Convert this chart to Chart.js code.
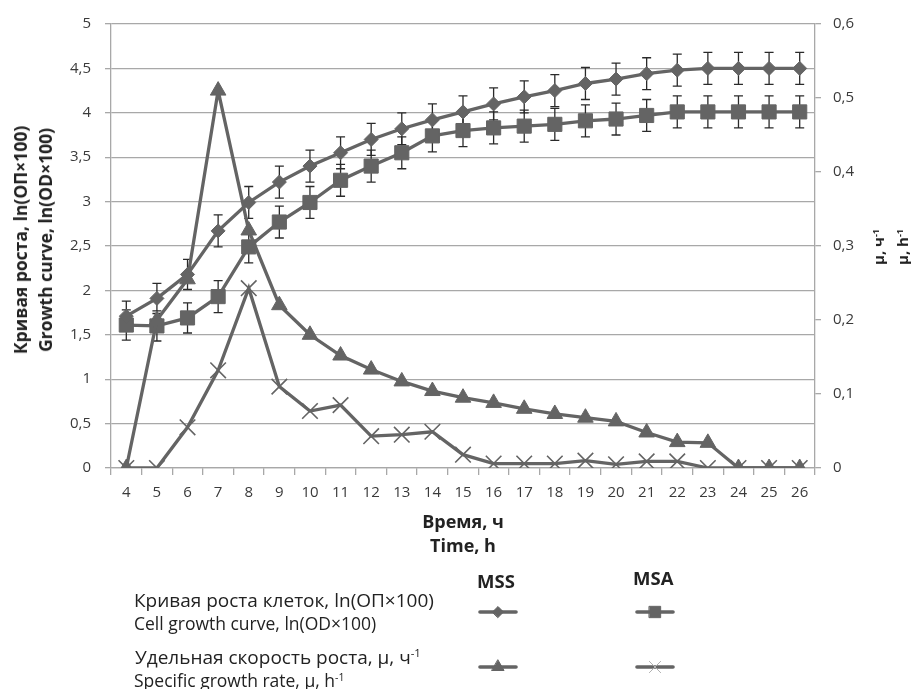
<!DOCTYPE html>
<html>
<head>
<meta charset="utf-8">
<script src="https://cdn.jsdelivr.net/npm/chart.js@4.4.1/dist/chart.umd.min.js"></script>
<style>
    /* page = one fixed 917x689 frame */
    body {
        margin: 0;
        background: #fff;
    }
    .frame {
        position: relative;
        width: 917px;
        height: 689px;
        font-family: "Open Sans", "DejaVu Sans", sans-serif;
        color: #222;
    }
    .frame canvas {
        position: absolute;
        left: 0;
        top: 0;
    }
    .txt {
        position: absolute;
        white-space: nowrap;
        line-height: 22px;
    }
    .bold {
        font-weight: 700;
    }
    .rot {
        position: absolute;
        white-space: nowrap;
        transform: translate(-50%, -50%) rotate(-90deg);
        font-weight: 700;
        text-align: center;
    }
    sup {
        font-size: 0.6em;
        vertical-align: 0.6em;
        line-height: 0;
    }
</style>
</head>
<body>
<div class="frame">
    <canvas id="growthChart" width="917" height="689"></canvas>

    <!-- axis titles -->
    <div class="rot" style="left:33px; top:240px; font-size:17.5px; line-height:25px;">
        Кривая роста, ln(ОП×100)<br>Growth curve, ln(OD×100)
    </div>
    <div class="rot" style="left:890px; top:247px; font-size:15px; line-height:24px;">
        μ, ч<sup>-1</sup><br>μ, h<sup>-1</sup>
    </div>
    <div class="txt bold" style="left:0; width:926px; text-align:center; top:510px; font-size:18px;">Время, ч</div>
    <div class="txt bold" style="left:0; width:926px; text-align:center; top:534px; font-size:18px;">Time, h</div>

    <!-- legend -->
    <div class="txt bold" style="left:477px; top:570px; font-size:18.5px;">MSS</div>
    <div class="txt bold" style="left:633px; top:567px; font-size:18.5px;">MSA</div>
    <div class="txt" style="left:134px; top:589px; font-size:19px;">Кривая роста клеток, ln(ОП×100)</div>
    <div class="txt" style="left:134px; top:612px; font-size:17.5px;">Cell growth curve, ln(OD×100)</div>
    <div class="txt" style="left:135px; top:646px; font-size:19px;">Удельная скорость роста, μ, ч<sup>-1</sup></div>
    <div class="txt" style="left:134px; top:669px; font-size:17.5px;">Specific growth rate, μ, h<sup>-1</sup></div>
</div>
<script>
    // время культивирования, ч
    const hours = ['4', '5', '6', '7', '8', '9', '10', '11', '12', '13', '14', '15',
                   '16', '17', '18', '19', '20', '21', '22', '23', '24', '25', '26'];

    // кривая роста ln(OD*100)
    const growthMSS = [1.71, 1.91, 2.18, 2.67, 2.99, 3.22, 3.40, 3.55, 3.70, 3.82, 3.92, 4.01,
                       4.10, 4.18, 4.25, 4.33, 4.38, 4.44, 4.48, 4.50, 4.50, 4.50, 4.50];
    const growthMSA = [1.61, 1.60, 1.69, 1.93, 2.49, 2.77, 2.99, 3.24, 3.40, 3.55, 3.74, 3.80,
                       3.83, 3.85, 3.87, 3.91, 3.93, 3.97, 4.01, 4.01, 4.01, 4.01, 4.01];
    // погрешности (+/-)
    const errMSS = [0.17, 0.17, 0.17, 0.18, 0.18, 0.18, 0.18, 0.18, 0.18, 0.18, 0.18, 0.18,
                    0.18, 0.18, 0.18, 0.18, 0.18, 0.18, 0.18, 0.18, 0.18, 0.18, 0.18];
    const errMSA = [0.17, 0.17, 0.17, 0.18, 0.18, 0.18, 0.18, 0.18, 0.18, 0.18, 0.18, 0.18,
                    0.18, 0.18, 0.18, 0.18, 0.18, 0.18, 0.18, 0.18, 0.18, 0.18, 0.18];

    // удельная скорость роста, 1/ч
    const rateMSS = [0, 0.200, 0.255, 0.510, 0.321, 0.220, 0.180, 0.152, 0.133, 0.117, 0.104, 0.095,
                     0.088, 0.080, 0.073, 0.068, 0.063, 0.048, 0.035, 0.034, 0, 0, 0];
    const rateMSA = [0, 0, 0.055, 0.132, 0.243, 0.110, 0.077, 0.085, 0.043, 0.045, 0.049, 0.018,
                     0.006, 0.006, 0.006, 0.010, 0.005, 0.009, 0.009, 0, 0, 0, 0];

    // подписи осей
    const leftTicks = ['0', '0,5', '1', '1,5', '2', '2,5', '3', '3,5', '4', '4,5', '5'];
    const rightTicks = ['0', '0,1', '0,2', '0,3', '0,4', '0,5', '0,6'];

    const lineColor = '#646464';
    const gridColor = '#a8a8a8';
    const tickFont = { family: 'Open Sans', size: 15 };

    // error bars for the growth curves
    const errorBars = {
        id: 'errorBars',
        beforeDatasetsDraw(chart) {
            const ctx = chart.ctx;
            ctx.save();
            ctx.strokeStyle = '#2a2a2a';
            ctx.lineWidth = 1.3;
            chart.data.datasets.forEach((ds, di) => {
                if (!ds.errors) return;
                const meta = chart.getDatasetMeta(di);
                const sc = chart.scales[ds.yAxisID];
                meta.data.forEach((pt, i) => {
                    const v = ds.data[i], e = ds.errors[i];
                    const yt = sc.getPixelForValue(v + e);
                    const yb = sc.getPixelForValue(v - e);
                    ctx.beginPath();
                    ctx.moveTo(pt.x, yt); ctx.lineTo(pt.x, yb);
                    ctx.moveTo(pt.x - 4.5, yt); ctx.lineTo(pt.x + 4.5, yt);
                    ctx.moveTo(pt.x - 4.5, yb); ctx.lineTo(pt.x + 4.5, yb);
                    ctx.stroke();
                });
            });
            ctx.restore();
        }
    };

    // legend samples under the chart (text is html)
    const legendSamples = {
        id: 'legendSamples',
        afterDraw(chart) {
            const ctx = chart.ctx;
            const items = [
                { x: 480, y: 612, style: 'rectRot', r: 5.5, bw: 1 },
                { x: 637, y: 612, style: 'rect', r: 8, bw: 1 },
                { x: 480, y: 667, style: 'triangle', r: 7, bw: 1 },
                { x: 637, y: 667, style: 'crossRot', r: 8, bw: 1, light: true }
            ];
            items.forEach(it => {
                ctx.save();
                ctx.strokeStyle = lineColor;
                ctx.lineWidth = 3.6;
                ctx.lineCap = 'round';
                ctx.beginPath();
                ctx.moveTo(it.x, it.y);
                ctx.lineTo(it.x + 36, it.y);
                ctx.stroke();
                ctx.fillStyle = lineColor;
                ctx.strokeStyle = it.light ? '#b0b0b0' : lineColor;
                ctx.lineWidth = it.bw;
                Chart.helpers.drawPoint(ctx, { pointStyle: it.style, radius: it.r, borderWidth: it.bw, rotation: 0 }, it.x + 18, it.y);
                ctx.restore();
            });
        }
    };

    const ctx = document.getElementById('growthChart').getContext('2d');
    new Chart(ctx, {
        type: 'line',
        data: {
            labels: hours,
            datasets: [
                {
                    label: 'MSS growth',
                    data: growthMSS,
                    errors: errMSS,
                    yAxisID: 'y',
                    borderColor: lineColor,
                    backgroundColor: lineColor,
                    borderWidth: 3.3,
                    pointStyle: 'rectRot',
                    pointRadius: 7,
                    pointBorderWidth: 1,
                    order: 2
                },
                {
                    label: 'MSA growth',
                    data: growthMSA,
                    errors: errMSA,
                    yAxisID: 'y',
                    borderColor: lineColor,
                    backgroundColor: lineColor,
                    borderWidth: 3.3,
                    pointStyle: 'rect',
                    pointRadius: 10,
                    pointBorderWidth: 1,
                    order: 3
                },
                {
                    label: 'MSS rate',
                    data: rateMSS,
                    yAxisID: 'y1',
                    borderColor: lineColor,
                    backgroundColor: lineColor,
                    borderWidth: 3.3,
                    pointStyle: 'triangle',
                    pointRadius: 9,
                    pointBorderWidth: 1,
                    order: 1
                },
                {
                    label: 'MSA rate',
                    data: rateMSA,
                    yAxisID: 'y1',
                    borderColor: lineColor,
                    backgroundColor: lineColor,
                    borderWidth: 3.3,
                    pointStyle: 'crossRot',
                    pointRadius: 11,
                    pointBorderWidth: 1.6,
                    order: 4
                }
            ]
        },
        options: {
            responsive: false,
            animation: false,
            layout: {
                padding: { top: 24, bottom: 191, left: 0, right: 0 }
            },
            plugins: {
                legend: { display: false },
                tooltip: { enabled: false }
            },
            scales: {
                x: {
                    offset: true,
                    afterFit(scale) { scale.height = 30; },
                    grid: {
                        offset: true,
                        drawOnChartArea: false,
                        drawTicks: true,
                        tickLength: 7,
                        color: gridColor,
                        lineWidth: 1.3
                    },
                    border: { color: gridColor, width: 1.3 },
                    ticks: { font: tickFont, color: '#3a3a3a', padding: 9, maxRotation: 0, autoSkip: false }
                },
                y: {
                    position: 'left',
                    min: 0,
                    max: 5,
                    afterFit(scale) { scale.width = 111; },
                    grid: { color: gridColor, lineWidth: 1.3, tickLength: 6 },
                    border: { color: gridColor, width: 1.3 },
                    ticks: {
                        stepSize: 0.5,
                        font: tickFont,
                        color: '#3a3a3a',
                        padding: 14,
                        callback: (v, i) => leftTicks[i]
                    }
                },
                y1: {
                    position: 'right',
                    min: 0,
                    max: 0.6,
                    afterFit(scale) { scale.width = 102; },
                    grid: { drawOnChartArea: false, color: gridColor, lineWidth: 1.3, tickLength: 6 },
                    border: { color: gridColor, width: 1.3 },
                    ticks: {
                        stepSize: 0.1,
                        font: tickFont,
                        color: '#3a3a3a',
                        padding: 12,
                        callback: (v, i) => rightTicks[i]
                    }
                }
            }
        },
        plugins: [errorBars, legendSamples]
    });
</script>
</body>
</html>
